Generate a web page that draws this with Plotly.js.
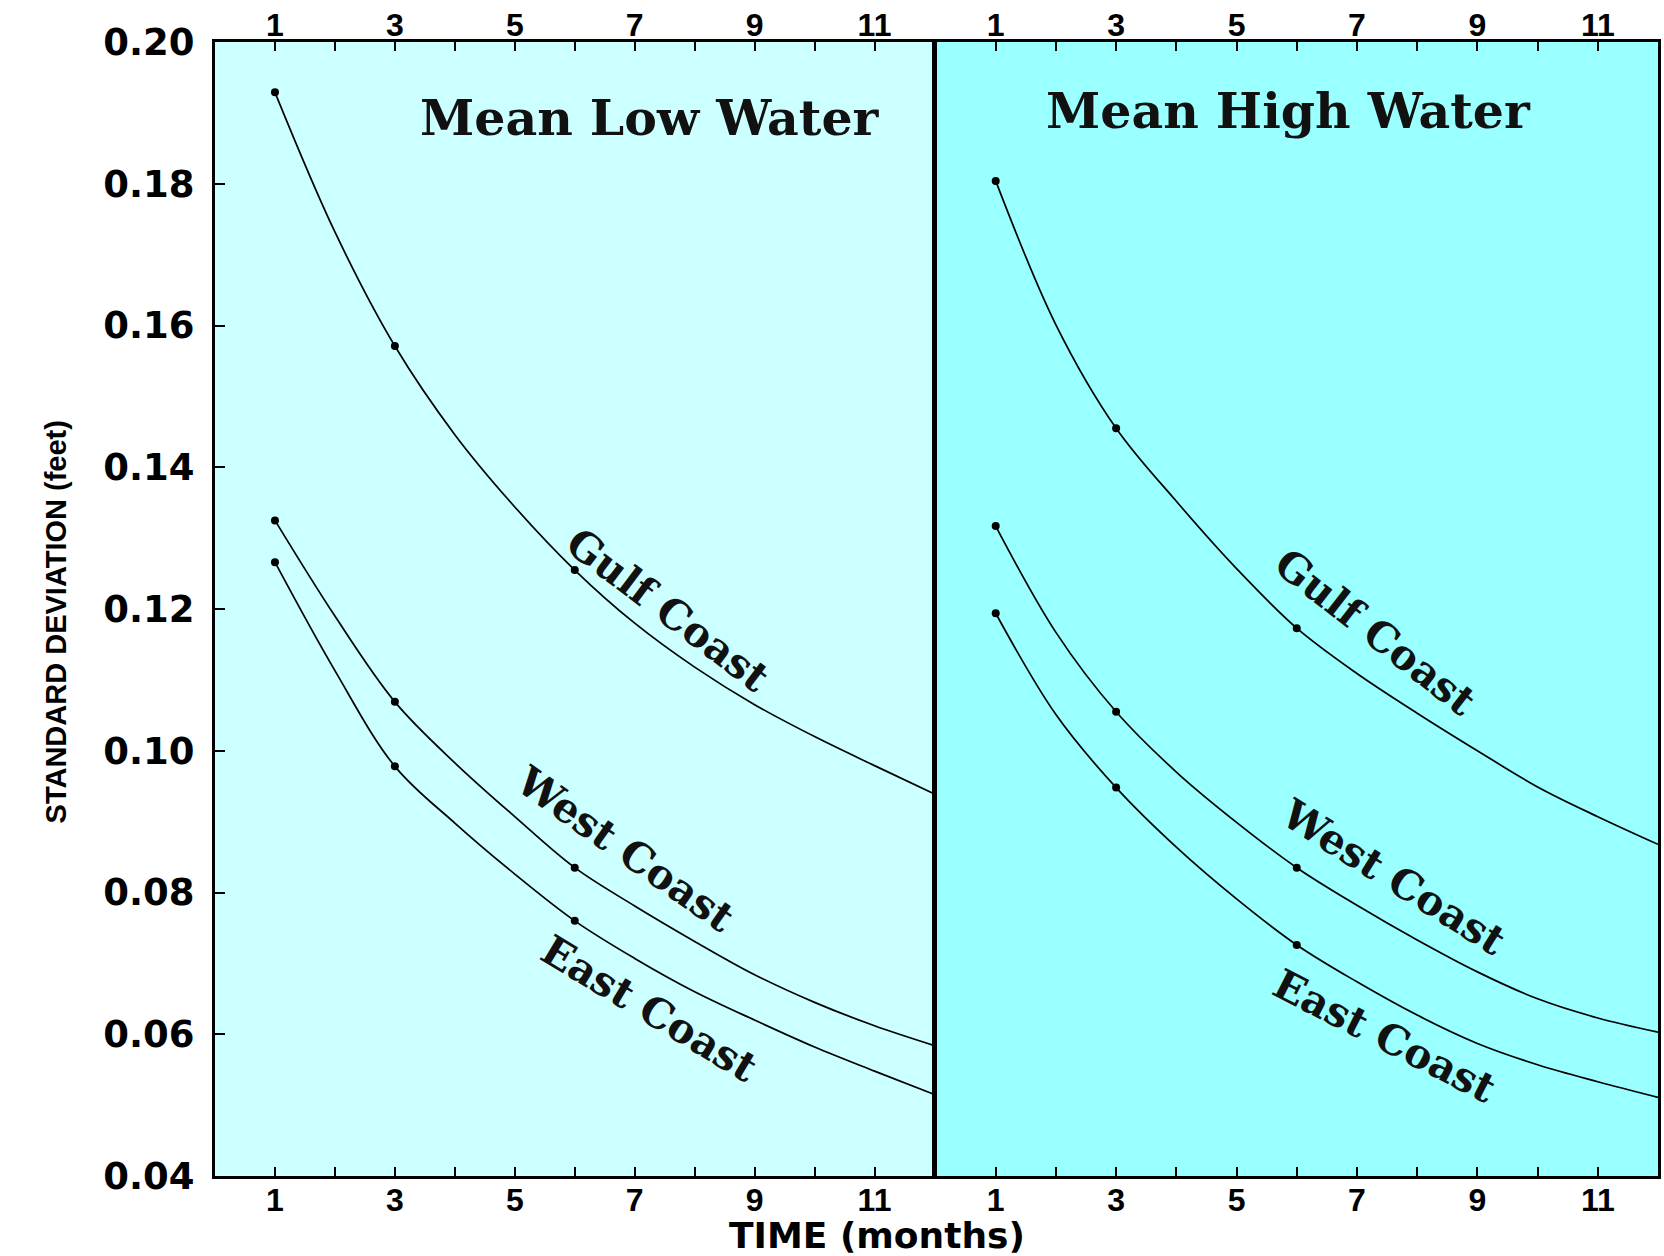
<!DOCTYPE html>
<html><head><meta charset="utf-8">
<script src="https://cdn.plot.ly/plotly-3.0.1.min.js"></script>
<style>html,body{margin:0;padding:0;background:#fff;} #chart{width:1664px;height:1256px;}</style>
</head><body><div id="chart"></div>
<script>
// ---- data ----
const months = [1,2,3,4,5,6,7,8,9,10,11,12];
const markerMonths = [1,3,6];
const mlwGulf = [0.1929,0.1732,0.1571,0.1446,0.1344,0.1255,0.1180,0.1118,0.1065,0.1020,0.0979,0.0939];
const mlwWest = [0.1325,0.1190,0.1069,0.0983,0.0907,0.0835,0.0781,0.0731,0.0684,0.0645,0.0612,0.0584];
const mlwEast = [0.1266,0.1113,0.0978,0.0898,0.0826,0.0760,0.0707,0.0660,0.0620,0.0582,0.0548,0.0515];
const mhwGulf = [0.1804,0.1601,0.1455,0.1352,0.1257,0.1173,0.1109,0.1053,0.1000,0.0949,0.0907,0.0868];
const mhwWest = [0.1317,0.1167,0.1055,0.0970,0.0899,0.0835,0.0782,0.0733,0.0688,0.0650,0.0623,0.0603];
const mhwEast = [0.1194,0.1051,0.0948,0.0864,0.0791,0.0726,0.0674,0.0627,0.0587,0.0557,0.0533,0.0511];
const panelTitles = ['Mean Low Water','Mean High Water'];
const seriesNames = ['Gulf Coast','West Coast','East Coast'];
const xTickVals = [1,2,3,4,5,6,7,8,9,10,11];
const xTickText = ['1','','3','','5','','7','','9','','11'];
const yTitle = 'STANDARD DEVIATION (feet)';
const xTitle = 'TIME (months)';

// ---- build traces ----
const panels = [
  {xa:'x', ya:'y', top:'x3', series:[mlwGulf, mlwWest, mlwEast]},
  {xa:'x2', ya:'y2', top:'x4', series:[mhwGulf, mhwWest, mhwEast]}
];
const traces = [];
panels.forEach(p => {
  p.series.forEach((vals, i) => {
    traces.push({x: months, y: vals, xaxis: p.xa, yaxis: p.ya, mode: 'lines',
      line: {color: '#000', width: 1.7, shape: 'spline', smoothing: 1.0},
      name: seriesNames[i], showlegend: false, hoverinfo: 'skip'});
    traces.push({x: markerMonths, y: markerMonths.map(m => vals[months.indexOf(m)]),
      xaxis: p.xa, yaxis: p.ya, mode: 'markers',
      marker: {color: '#000', size: 8}, showlegend: false, hoverinfo: 'skip'});
  });
  // invisible trace to register the top axis
  traces.push({x: months, y: p.series[0], xaxis: p.top, yaxis: p.ya, mode: 'lines',
    line: {width: 0}, opacity: 0, showlegend: false, hoverinfo: 'skip'});
});

const xTickFont = {family: 'Liberation Sans, Arial, sans-serif', size: 32, color: '#000', weight: 700};
function xAxis(domain, anchor, extra) {
  return Object.assign({domain: domain, anchor: anchor, range: [0, 12], showgrid: false, zeroline: false,
    showline: true, linecolor: '#000', linewidth: 3, ticks: 'inside', ticklen: 9, tickwidth: 2,
    tickcolor: '#000', tickvals: xTickVals, ticktext: xTickText, tickfont: xTickFont,
    ticklabelstandoff: -6}, extra || {});
}
const yCommon = {domain: [0, 1], range: [0.04, 0.20], showgrid: false, zeroline: false,
  showline: true, linecolor: '#000', linewidth: 3, mirror: true};

const labelFont = {family: 'DejaVu Serif, Liberation Serif, serif', size: 41, color: '#111', weight: 700};
const titleFont = {family: 'DejaVu Serif, Liberation Serif, serif', size: 49, color: '#111', weight: 700};

const annotations = [
  {xref: 'x', yref: 'y', x: 7.25, y: 0.1893, text: panelTitles[0], showarrow: false, font: titleFont},
  {xref: 'x2', yref: 'y2', x: 5.86, y: 0.1902, text: panelTitles[1], showarrow: false, font: titleFont},
  {xref: 'x', yref: 'y', x: 7.55, y: 0.1198, text: seriesNames[0], textangle: 37, showarrow: false, font: labelFont},
  {xref: 'x', yref: 'y', x: 6.84, y: 0.0862, text: seriesNames[1], textangle: 35, showarrow: false, font: labelFont},
  {xref: 'x', yref: 'y', x: 7.25, y: 0.0636, text: seriesNames[2], textangle: 31, showarrow: false, font: labelFont},
  {xref: 'x2', yref: 'y2', x: 7.3, y: 0.1168, text: seriesNames[0], textangle: 38, showarrow: false, font: labelFont},
  {xref: 'x2', yref: 'y2', x: 7.6, y: 0.0822, text: seriesNames[1], textangle: 32, showarrow: false, font: labelFont},
  {xref: 'x2', yref: 'y2', x: 7.45, y: 0.0597, text: seriesNames[2], textangle: 27, showarrow: false, font: labelFont},
  {xref: 'paper', yref: 'paper', x: -0.122, y: 0.489, text: yTitle, textangle: -90, showarrow: false,
    font: {family: 'Liberation Sans, Arial, sans-serif', size: 29, color: '#000', weight: 700}},
  {xref: 'paper', yref: 'paper', x: 0.4588, y: -0.0525, text: xTitle, showarrow: false, yanchor: 'middle',
    font: {family: 'DejaVu Sans, sans-serif', size: 36, color: '#000', weight: 700}}
];

const layout = {
  width: 1664, height: 1256,
  margin: {l: 215, r: 6, t: 42, b: 80},
  paper_bgcolor: '#ffffff', plot_bgcolor: 'rgba(0,0,0,0)',
  showlegend: false,
  xaxis: xAxis([0, 0.4986], 'y'),
  xaxis3: xAxis([0, 0.4986], 'y', {overlaying: 'x', side: 'top', ticklabelstandoff: -10}),
  xaxis2: xAxis([0.4993, 1], 'y2'),
  xaxis4: xAxis([0.4993, 1], 'y2', {overlaying: 'x2', side: 'top', ticklabelstandoff: -10}),
  yaxis: Object.assign({}, yCommon, {anchor: 'x', ticks: 'inside', ticklen: 10, tickwidth: 2, tickcolor: '#000',
    dtick: 0.02, tick0: 0.04, tickformat: '.2f', ticklabelstandoff: 10,
    tickfont: {family: 'DejaVu Sans, sans-serif', size: 37, color: '#000', weight: 700}}),
  yaxis2: Object.assign({}, yCommon, {anchor: 'x2', ticks: '', showticklabels: false}),
  shapes: [
    {type: 'rect', xref: 'x domain', yref: 'y domain', x0: 0, x1: 1, y0: 0, y1: 1,
      fillcolor: '#ccffff', line: {width: 0}, layer: 'below'},
    {type: 'rect', xref: 'x2 domain', yref: 'y2 domain', x0: 0, x1: 1, y0: 0, y1: 1,
      fillcolor: '#99ffff', line: {width: 0}, layer: 'below'}
  ],
  annotations: annotations
};

Plotly.newPlot('chart', traces, layout, {displayModeBar: false, staticPlot: true});
</script>
</body></html>
